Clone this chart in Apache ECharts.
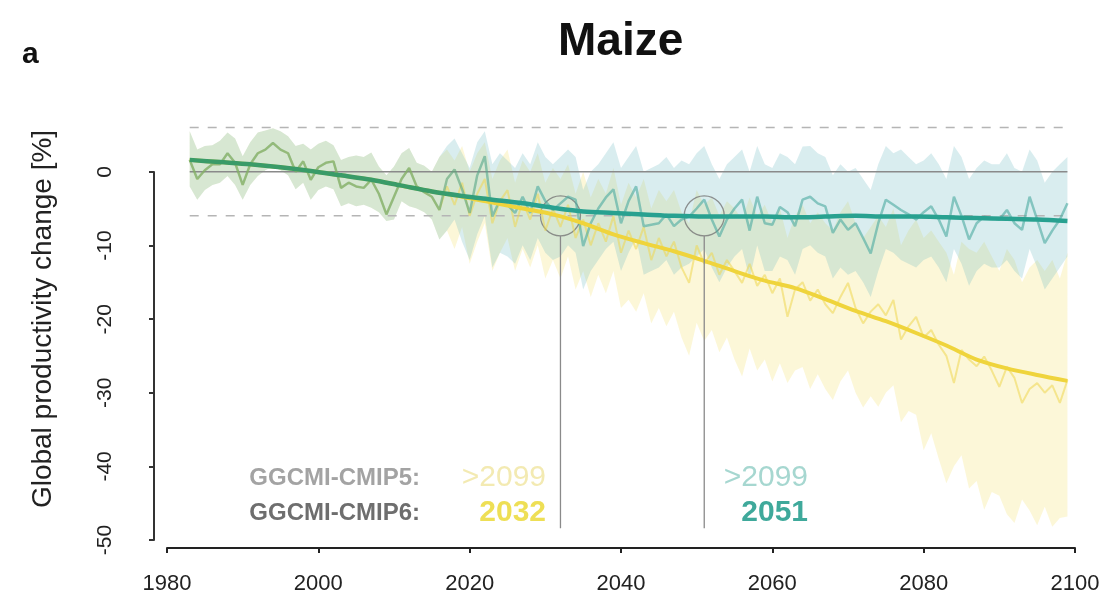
<!DOCTYPE html>
<html>
<head>
<meta charset="utf-8">
<script src="https://cdn.jsdelivr.net/npm/echarts@6/dist/echarts.min.js"></script>
<style>
  html, body { margin: 0; padding: 0; background: #fff; }
  #chart { width: 1112px; height: 611px; }
</style>
</head>
<body>
<div id="chart"></div>
<script>
// x ticks and y ticks
const xTicks = [1980, 2000, 2020, 2040, 2060, 2080, 2100];
const yTicks = [0, -10, -20, -30, -40, -50];

// historical period 1983-2016, shared by both scenarios
const histAnnual = [1.6, -1.0, 0.2, 1.0, 1.0, 2.5, 1.2, -1.8, 1.0, 2.5,
  3.0, 3.9, 3.0, 2.5, 0.0, 1.4, -1.1, 0.6, 1.2, 1.4,
  -2.2, -1.5, -2.0, -2.2, -1.1, -3.0, -5.8, -3.4, -1.0, 0.5,
  -2.0, -2.8, -3.4, -5.2];
const histUpper = [5.5, 3.0, 3.5, 3.6, 4.2, 5.3, 4.5, 2.1, 4.0, 5.3,
  5.6, 5.9, 5.5, 4.8, 3.5, 3.8, 3.0, 3.8, 4.2, 3.6,
  1.6, 2.0, 2.2, 2.0, 2.6, 0.7, -0.5, 0.7, 2.5, 3.2,
  1.2, 0.8, 0.0, 2.0];
const histLower = [-2.0, -3.8, -2.5, -1.8, -1.5, -0.6, -1.8, -3.8, -1.8, -0.6,
  0.2, 0.7, 0.2, -0.5, -2.4, -1.5, -3.8, -2.5, -2.0, -2.4,
  -4.7, -4.3, -4.7, -4.5, -4.9, -5.5, -6.7, -6.5, -4.0, -4.7,
  -5.0, -5.5, -6.5, -9.2];

// future 2017-2099, teal scenario
const tealAnnual = [-1.0, 0.3, -2.4, -5.6, -0.5, 2.1, -6.1, -3.8, -4.5, -5.6,
  -3.4, -5.6, -2.0, -4.0, -5.2, -4.3, -3.4, -3.8, -10.1, -7.0,
  -5.0, -3.5, -2.4, -7.0, -4.0, -2.0, -7.4, -7.2, -7.0, -5.8,
  -7.4, -6.5, -6.1, -5.0, -3.8, -6.5, -8.8, -6.5, -5.0, -3.8,
  -8.0, -3.4, -7.0, -7.2, -4.8, -5.5, -7.4, -3.8, -3.4, -4.3,
  -4.7, -8.3, -6.5, -7.9, -7.0, -9.0, -11.1, -7.0, -3.8, -4.5,
  -5.2, -5.8, -6.5, -5.5, -4.7, -6.5, -8.8, -3.4, -6.0, -9.2,
  -7.0, -6.1, -6.3, -6.5, -5.2, -7.0, -7.9, -3.4, -6.5, -9.7,
  -8.0, -6.5, -4.3];
const tealUpper = [3.5, 4.5, 2.5, 0.5, 4.0, 5.5, 1.0, 2.5, 1.5, 0.5,
  2.5, 1.0, 4.0, 2.0, 1.0, 2.0, 3.0, 2.0, -2.5, 0.0,
  1.0, 2.5, 4.0, 0.5, 2.0, 3.5, 0.0, 0.5, 1.0, 2.0,
  0.5, 1.5, 1.0, 2.5, 3.5, 1.0, -1.0, 1.0, 2.0, 3.0,
  0.0, 3.5, 1.0, 0.5, 2.5, 2.0, 1.0, 3.4, 3.5, 2.5,
  2.0, -0.5, 1.0, 0.0, 0.5, -1.0, -2.5, 1.0, 3.5, 2.5,
  3.0, 2.0, 1.0, 1.5, 2.5, 1.0, -1.0, 3.5, 2.0, -1.0,
  0.5, 1.5, 1.0, 1.0, 2.5, 0.5, 0.0, 3.0, 1.5, -1.5,
  0.0, 1.0, 2.0];
const tealLower = [-8.0, -6.5, -9.5, -12.0, -8.5, -6.0, -13.0, -11.0, -11.5, -12.5,
  -10.0, -12.0, -9.0, -11.0, -12.0, -11.5, -10.0, -11.0, -16.0, -13.5,
  -12.0, -10.5, -9.5, -13.5, -11.0, -9.0, -14.0, -13.5, -13.0, -12.0,
  -14.0, -13.0, -12.5, -11.5, -10.5, -13.0, -15.0, -13.0, -11.5, -10.5,
  -14.5, -10.0, -13.5, -13.5, -11.5, -12.0, -14.0, -10.5, -10.0, -11.0,
  -11.5, -14.5, -13.0, -14.0, -13.5, -15.0, -17.0, -13.5, -10.5, -11.0,
  -12.0, -12.5, -13.0, -12.0, -11.5, -13.0, -15.0, -10.5, -12.5, -15.5,
  -13.5, -12.5, -13.0, -13.0, -12.0, -13.5, -14.5, -10.5, -13.0, -16.0,
  -14.5, -13.0, -11.5];

// future 2017-2099, yellow scenario
const yellowAnnual = [-2.0, -4.5, -1.5, -6.0, -3.0, -1.0, -7.0, -4.0, -2.5, -7.5,
  -4.0, -6.5, -3.0, -8.0, -5.0, -7.5, -4.5, -9.0, -6.5, -10.0,
  -7.0, -9.5, -6.0, -11.0, -8.0, -10.5, -7.5, -12.0, -9.0, -11.5,
  -9.5, -13.0, -15.1, -10.0, -12.5, -11.0, -14.0, -12.0, -13.5, -15.1,
  -12.5, -15.5, -14.0, -16.5, -14.5, -19.7, -16.0, -15.0, -17.5, -16.0,
  -18.0, -19.2, -17.0, -15.1, -18.5, -20.6, -19.0, -18.0, -19.5, -17.4,
  -22.8, -21.0, -19.7, -22.5, -21.5, -23.5, -25.0, -28.7, -24.2, -25.5,
  -26.4, -25.1, -27.0, -29.2, -26.5, -28.0, -31.4, -29.5, -28.7, -30.0,
  -29.0, -31.4, -28.3];
const yellowUpper = [3.0, 1.5, 3.5, 0.0, 2.5, 4.0, -1.0, 1.5, 3.0, -1.5,
  1.5, 0.0, 2.5, -1.5, 0.5, -1.0, 1.0, -3.0, 0.0, -3.5,
  -1.0, -3.0, 0.5, -4.5, -1.5, -3.5, -1.0, -5.0, -2.5, -4.0,
  -2.5, -5.5, -7.0, -2.5, -4.5, -3.5, -6.0, -4.0, -5.0, -6.5,
  -3.5, -6.0, -4.5, -7.0, -5.0, -9.0, -6.0, -4.5, -7.0, -5.5,
  -7.0, -8.0, -5.5, -4.0, -7.0, -9.0, -7.5, -6.0, -7.5, -5.0,
  -10.0, -8.0, -6.5, -9.0, -8.0, -9.5, -11.0, -14.0, -9.5, -10.5,
  -11.0, -9.5, -11.5, -13.5, -10.5, -12.0, -15.0, -13.0, -12.0, -13.5,
  -12.0, -14.5, -11.0];
const yellowLower = [-8.0, -10.5, -7.5, -12.5, -9.5, -7.0, -13.5, -11.0, -9.0, -13.5,
  -10.5, -13.0, -10.0, -14.5, -12.0, -14.5, -11.5, -16.0, -13.5, -17.0,
  -14.0, -16.5, -13.5, -18.5, -17.4, -19.0, -16.5, -20.6, -18.5, -21.0,
  -19.0, -22.5, -25.0, -20.5, -23.0, -21.5, -24.5, -22.5, -25.5, -27.8,
  -24.0, -27.0, -25.5, -28.5, -26.0, -28.7, -27.0, -26.5, -29.5, -27.5,
  -29.5, -31.0, -28.5, -27.0, -30.0, -32.0, -30.5, -31.9, -30.0, -29.0,
  -34.0, -32.5, -33.0, -37.8, -35.5, -39.0, -42.3, -40.0, -38.5, -43.0,
  -42.0, -45.9, -43.5, -44.0, -46.5, -47.7, -44.5, -46.0, -48.0, -45.5,
  -48.2, -47.0, -46.8];

// smoothed trends
const smoothYears = [1983, 1987, 1991, 1995, 1999, 2003, 2007, 2011, 2015, 2019,
  2023, 2027, 2031, 2035, 2039, 2043, 2047, 2051, 2055, 2059,
  2063, 2067, 2071, 2075, 2079, 2083, 2087, 2091, 2095, 2099];
const tealSmooth = [1.6, 1.3, 1.0, 0.6, 0.1, -0.5, -1.1, -1.9, -2.7, -3.3,
  -3.8, -4.3, -4.9, -5.4, -5.6, -5.8, -6.0, -6.1, -6.1, -6.1,
  -6.2, -6.1, -6.0, -6.1, -6.1, -6.2, -6.3, -6.4, -6.5, -6.7];
const yellowSmooth = [1.6, 1.3, 1.0, 0.6, 0.1, -0.5, -1.1, -1.9, -2.7, -3.4,
  -4.2, -5.0, -5.8, -7.0, -8.5, -9.7, -10.8, -12.1, -13.5, -14.8,
  -15.8, -17.3, -18.9, -20.3, -21.9, -23.6, -25.5, -26.7, -27.6, -28.4];

// reference lines and emergence markers
const refYears = [1983, 2099];
const threshold = 6;
const emergenceYears = [2032, 2051];
const stemRange = [-8.7, -48.4];
const rowNames = ['GGCMI-CMIP5:', 'GGCMI-CMIP6:'];
const yellowEmergence = ['>2099', '2032'];
const tealEmergence = ['>2099', '2051'];

const years = [];
for (let y = 1983; y <= 2099; y++) years.push(y);

const yAnn = histAnnual.concat(yellowAnnual);
const yUp = histUpper.concat(yellowUpper);
const yLo = histLower.concat(yellowLower);
const tAnn = histAnnual.concat(tealAnnual);
const tUp = histUpper.concat(tealUpper);
const tLo = histLower.concat(tealLower);

const pairs = (xs, vs) => vs.map((v, i) => [xs[i], v]);

const grad = (c1, c2) => new echarts.graphic.LinearGradient(0, 0, 1, 0, [
  {offset: 0, color: c1}, {offset: 0.28, color: c1},
  {offset: 0.38, color: c2}, {offset: 1, color: c2}
]);

// envelope drawn as one polygon: upper edge forward, lower edge back
function band(lo, up, color) {
  const rows = years.map((x, i) => [x, lo[i], up[i]]);
  return {
    type: 'custom', silent: true, data: rows,
    encode: {x: 0, y: [1, 2]},
    renderItem: function (params, api) {
      if (params.dataIndex !== 0) return;
      const top = rows.map(r => api.coord([r[0], r[2]]));
      const bottom = rows.map(r => api.coord([r[0], r[1]])).reverse();
      return {
        type: 'polygon',
        shape: {points: top.concat(bottom)},
        style: {fill: color}
      };
    }
  };
}

function plain(data, color, width, type) {
  return {
    type: 'line', data: data, symbol: 'none', silent: true,
    lineStyle: {color: color, width: width, type: type || 'solid'}
  };
}

const series = [
  band(yLo, yUp, 'rgba(240,215,70,0.21)'),
  band(tLo, tUp, 'rgba(105,182,192,0.25)'),
  plain(refYears.map(x => [x, 0]), '#8a8a8a', 1.5),
  plain(refYears.map(x => [x, threshold]), '#b5b5b5', 1.5, [9, 9]),
  plain(refYears.map(x => [x, -threshold]), '#b5b5b5', 1.5, [9, 9]),
  plain(pairs(years, yAnn), 'rgba(238,215,80,0.55)', 2),
  plain(pairs(years, tAnn), grad('rgba(95,162,110,0.6)', 'rgba(75,170,160,0.6)'), 2.5),
  Object.assign(plain(pairs(smoothYears, yellowSmooth), '#efd43c', 4), {smooth: 0.3}),
  Object.assign(plain(pairs(smoothYears, tealSmooth), grad('#3a9b68', '#28a190'), 4.5), {smooth: 0.3}),
  {
    type: 'scatter', silent: true, symbol: 'circle', symbolSize: 40,
    data: emergenceYears.map(x => [x, -threshold]),
    itemStyle: {color: 'rgba(0,0,0,0)', borderColor: '#777', borderWidth: 1.3}
  }
].concat(emergenceYears.map(x => plain(stemRange.map(v => [x, v]), '#8a8a8a', 1.3)));

const chart = echarts.init(document.getElementById('chart'));
chart.setOption({
  animation: false,
  backgroundColor: '#fff',
  textStyle: {fontFamily: 'Liberation Sans, Arial, sans-serif'},
  title: {
    text: 'Maize', left: 553, top: 14,
    textStyle: {fontSize: 46, fontWeight: 'bold', color: '#111', fontFamily: 'Liberation Sans'}
  },
  grid: [
    {left: 167, right: 37, top: 98, bottom: 71},
    {left: 167, right: 37, top: 172, bottom: 71}
  ],
  xAxis: [{
    type: 'value', gridIndex: 0, min: 1980, max: 2100, interval: 20, offset: 8,
    splitLine: {show: false},
    axisLine: {onZero: false, lineStyle: {color: '#222', width: 2}},
    axisTick: {length: 5, lineStyle: {color: '#222', width: 2}},
    axisLabel: {fontSize: 22, color: '#222', margin: 25, customValues: xTicks,
      formatter: v => String(v)}
  }, {
    type: 'value', gridIndex: 1, min: 1980, max: 2100, show: false
  }],
  yAxis: [{
    type: 'value', gridIndex: 0, min: -50, max: 10,
    splitLine: {show: false}, axisLine: {show: false},
    axisTick: {show: false}, axisLabel: {show: false},
    name: 'Global productivity change [%]', nameLocation: 'middle', nameGap: 110,
    nameTextStyle: {fontSize: 28, color: '#222'}
  }, {
    type: 'value', gridIndex: 1, min: -50, max: 0, interval: 10, offset: 13,
    splitLine: {show: false},
    axisLine: {show: true, onZero: false, lineStyle: {color: '#333', width: 2}},
    axisTick: {show: true, length: 5, lineStyle: {color: '#333', width: 2}},
    axisLabel: {fontSize: 21, color: '#222', rotate: 90, margin: 38, customValues: yTicks}
  }],
  graphic: [
    {type: 'text', left: 22, top: 40, style: {text: 'a', font: 'bold 30px Liberation Sans', fill: '#111'}},
    {type: 'text', x: 420, y: 478, style: {text: rowNames[0], font: 'bold 24px Liberation Sans', fill: '#a3a3a3', align: 'right', verticalAlign: 'middle'}},
    {type: 'text', x: 420, y: 513, style: {text: rowNames[1], font: 'bold 24px Liberation Sans', fill: '#6e6e6e', align: 'right', verticalAlign: 'middle'}},
    {type: 'text', x: 546, y: 478, style: {text: yellowEmergence[0], font: '30px Liberation Sans', fill: '#f3eab2', align: 'right', verticalAlign: 'middle'}},
    {type: 'text', x: 546, y: 513, style: {text: yellowEmergence[1], font: 'bold 30px Liberation Sans', fill: '#eedf55', align: 'right', verticalAlign: 'middle'}},
    {type: 'text', x: 808, y: 478, style: {text: tealEmergence[0], font: '30px Liberation Sans', fill: '#a6d7d0', align: 'right', verticalAlign: 'middle'}},
    {type: 'text', x: 808, y: 513, style: {text: tealEmergence[1], font: 'bold 30px Liberation Sans', fill: '#3fa99b', align: 'right', verticalAlign: 'middle'}}
  ],
  series: series.map(s => Object.assign({xAxisIndex: 0, yAxisIndex: 0}, s))
});
</script>
</body>
</html>
